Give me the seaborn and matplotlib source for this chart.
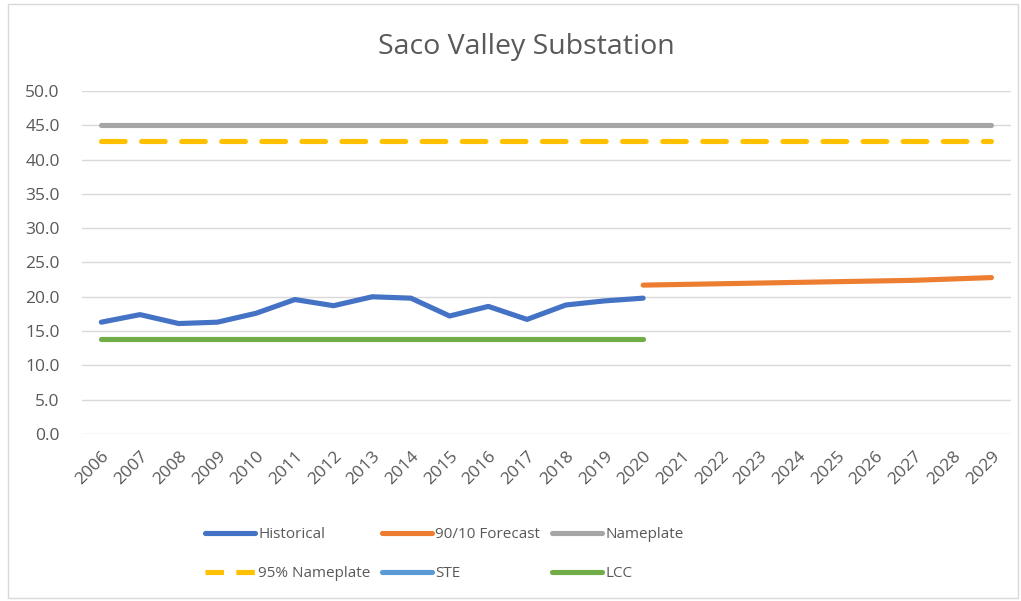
import numpy as np
import pandas as pd
import seaborn as sns
import matplotlib
matplotlib.use("Agg")
import matplotlib.pyplot as plt
from matplotlib.lines import Line2D
from matplotlib.patches import Rectangle

# ---- data ----
years = list(range(2006, 2030))
hist_years = list(range(2006, 2021))
historical = [16.3, 17.4, 16.1, 16.3, 17.6, 19.6, 18.7, 20.0, 19.8, 17.2, 18.6, 16.7, 18.8, 19.4, 19.8]
forecast_years = list(range(2020, 2030))
forecast = [21.7, 21.8, 21.9, 22.0, 22.1, 22.2, 22.3, 22.4, 22.6, 22.8]
nameplate = [45.0] * len(years)
nameplate95 = [42.75] * len(years)
lcc = [13.8] * len(hist_years)

title = "Saco Valley Substation"
colors = {
    "Historical": "#4472C4",
    "90/10 Forecast": "#ED7D31",
    "Nameplate": "#A5A5A5",
    "95% Nameplate": "#FFC000",
    "STE": "#5B9BD5",
    "LCC": "#70AD47",
}

sns.set_theme(style="white")
plt.rcParams["font.family"] = ["Open Sans", "DejaVu Sans"]

fig = plt.figure(figsize=(10.21, 6.01), dpi=100)
ax = fig.add_axes([0.0803, 0.2779, 0.9097, 0.5707])

lw = 3.7
df_hist = pd.DataFrame({"year": hist_years, "value": historical})
df_fc = pd.DataFrame({"year": forecast_years, "value": forecast})
df_np = pd.DataFrame({"year": years, "value": nameplate})
df_np95 = pd.DataFrame({"year": years, "value": nameplate95})
df_lcc = pd.DataFrame({"year": hist_years, "value": lcc})

sns.lineplot(data=df_np, x="year", y="value", ax=ax, color=colors["Nameplate"], lw=lw,
             solid_capstyle="round", zorder=3)
sns.lineplot(data=df_np95, x="year", y="value", ax=ax, color=colors["95% Nameplate"], lw=lw,
             dashes=False, zorder=3)
ax.lines[-1].set_dashes((4.6, 3.2))
ax.lines[-1].set_dash_capstyle("round")
sns.lineplot(data=df_lcc, x="year", y="value", ax=ax, color=colors["LCC"], lw=lw,
             solid_capstyle="round", zorder=3)
sns.lineplot(data=df_fc, x="year", y="value", ax=ax, color=colors["90/10 Forecast"], lw=lw,
             solid_capstyle="round", zorder=4)
sns.lineplot(data=df_hist, x="year", y="value", ax=ax, color=colors["Historical"], lw=lw,
             solid_capstyle="round", solid_joinstyle="round", zorder=5)

ax.set_xlim(2005.5, 2029.5)
ax.set_ylim(0, 50)
ax.set_yticks(np.arange(0, 50.1, 5))
ax.set_yticklabels([f"{v:.1f}" for v in np.arange(0, 50.1, 5)])
ax.set_xticks(years)
ax.set_xticklabels([str(y) for y in years], rotation=45, ha="right", rotation_mode="anchor")
ax.tick_params(axis="both", labelsize=12.5, colors="#595959", length=0)
ax.tick_params(axis="y", pad=16)
ax.tick_params(axis="x", pad=10)
ax.grid(axis="y", color="#D9D9D9", lw=1.0)
ax.set_axisbelow(True)
for s in ax.spines.values():
    s.set_visible(False)
ax.set_xlabel("")
ax.set_ylabel("")

fig.text(0.516, 0.922, title, ha="center", va="center", fontsize=20.5, color="#595959")

# legend: filled column by column, so order gives rows Historical/Forecast/Nameplate, then 95%/STE/LCC
def h(name, dashed=False):
    if dashed:
        return Line2D([], [], color=colors[name], lw=lw, dashes=(3.6, 2.4))
    return Line2D([], [], color=colors[name], lw=lw)

order = ["Historical", "95% Nameplate", "90/10 Forecast", "STE", "Nameplate", "LCC"]
handles = [h(n, dashed=(n == "95% Nameplate")) for n in order]
leg = fig.legend(handles, order, loc="center", bbox_to_anchor=(0.435, 0.078), ncol=3,
                 frameon=False, fontsize=11, handlelength=3.3, handletextpad=0.2,
                 columnspacing=0.75, labelspacing=1.6)
for t in leg.get_texts():
    t.set_color("#595959")

fig.patches.append(Rectangle((8 / 1021, 3 / 601), 1010 / 1021, 594 / 601, transform=fig.transFigure,
                             fill=False, edgecolor="#D9D9D9", lw=1.0))

fig.savefig("out.png", dpi=100, facecolor="white")
